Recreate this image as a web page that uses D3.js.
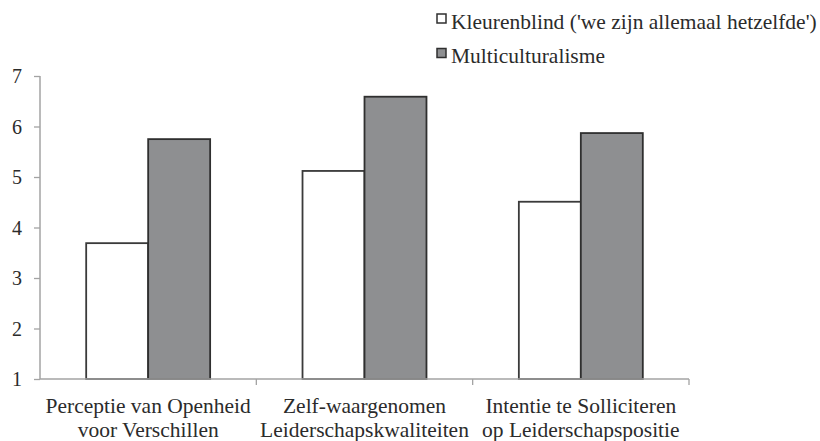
<!DOCTYPE html>
<html>
<head>
<meta charset="utf-8">
<script src="https://cdn.jsdelivr.net/npm/d3@7"></script>
<style>
  html, body { margin: 0; padding: 0; background: #fff; }
  svg { display: block; }
</style>
</head>
<body>
<svg id="chart" width="820" height="441"></svg>
<script>
// Categories (two-line labels) and mean scores per condition
const categories = [
  ["Perceptie van Openheid", "voor Verschillen"],
  ["Zelf-waargenomen", "Leiderschapskwaliteiten"],
  ["Intentie te Solliciteren", "op Leiderschapspositie"]
];
const seriesNames = ["Kleurenblind ('we zijn allemaal hetzelfde')", "Multiculturalisme"];
const kleurenblind = [3.69, 5.12, 4.51];
const multicultureel = [5.75, 6.59, 5.87];
const yTicks = [1, 2, 3, 4, 5, 6, 7];

const fills = ["#ffffff", "#8e8f91"];
const series = [kleurenblind, multicultureel];

const FONT = "Liberation Serif";
const FS = 20;          // font size
const SX = 1.075;       // slight horizontal widening of the serif face
const TEXT = "#2b2b2b";

const svg = d3.select("#chart");
const margin = { left: 40, right: 131, top: 76, bottom: 62 };
const W = 820, H = 441;

const x0 = d3.scaleBand()
  .domain(d3.range(categories.length))
  .range([margin.left, W - margin.right])
  .paddingInner(0.427)
  .paddingOuter(0.2135);

const x1 = d3.scaleBand()
  .domain(d3.range(series.length))
  .range([0, x0.bandwidth()]);

const y = d3.scaleLinear()
  .domain([1, 7])
  .range([H - margin.bottom, margin.top]);

const axisColor = "#a3a3a3";

// y axis
const yAxis = svg.append("g")
  .attr("transform", `translate(${margin.left},0)`)
  .call(d3.axisLeft(y).tickValues(yTicks).tickSize(6).tickPadding(12).tickFormat(d3.format("d")));
yAxis.attr("font-family", null).attr("font-size", null);
yAxis.select(".domain").attr("stroke", axisColor).attr("stroke-width", 1.5)
  .attr("d", `M0,${y(7)}V${y(1)}`);
yAxis.selectAll(".tick line").attr("stroke", axisColor).attr("stroke-width", 1.3);
yAxis.selectAll(".tick text")
  .style("font-family", FONT)
  .style("font-size", FS + "px")
  .style("fill", TEXT)
  .attr("dy", "0.34em")
  .attr("x", -18);

// bars
const step = x0.step();
const groups = svg.append("g").selectAll("g")
  .data(categories.map((c, i) => i))
  .join("g")
  .attr("transform", i => `translate(${x0(i)},0)`);

groups.selectAll("rect")
  .data(i => series.map((s, k) => ({ k, v: s[i] })))
  .join("rect")
  .attr("x", d => x1(d.k))
  .attr("width", x1.bandwidth())
  .attr("y", d => y(d.v))
  .attr("height", d => y(1) - y(d.v))
  .attr("fill", d => fills[d.k])
  .attr("stroke", d => d.k === 0 ? "#3a3a3a" : "#2f2f2f")
  .attr("stroke-width", 1.8);

// x axis with ticks at the category boundaries
const xAxis = svg.append("g");
const boundaries = d3.range(1, categories.length + 1)
  .map(i => x0(i - 1) + x0.bandwidth() + step * x0.paddingInner() / 2);
xAxis.append("line")
  .attr("x1", margin.left).attr("x2", boundaries[boundaries.length - 1])
  .attr("y1", y(1)).attr("y2", y(1))
  .attr("stroke", axisColor).attr("stroke-width", 1.5);
xAxis.selectAll("line.tk")
  .data(boundaries)
  .join("line")
  .attr("class", "tk")
  .attr("x1", d => d).attr("x2", d => d)
  .attr("y1", y(1)).attr("y2", y(1) + 6)
  .attr("stroke", axisColor).attr("stroke-width", 1.3);

// category labels (two lines each)
const labels = svg.append("g").selectAll("text")
  .data(categories)
  .join("text")
  .attr("text-anchor", "middle")
  .style("font-family", FONT)
  .style("font-size", FS + "px")
  .style("fill", TEXT)
  .attr("transform", (c, i) => `translate(${x0(i) + x0.bandwidth() / 2},413) scale(${SX},1)`);
labels.selectAll("tspan")
  .data(c => c)
  .join("tspan")
  .attr("x", 0)
  .attr("dy", (d, j) => j === 0 ? 0 : 24)
  .text(d => d);

// legend
const legend = svg.append("g").attr("transform", "translate(437,0)");
const legendRows = legend.selectAll("g")
  .data(seriesNames)
  .join("g")
  .attr("transform", (d, i) => `translate(0,${14 + i * 34.5})`);
legendRows.append("rect")
  .attr("x", 0).attr("y", 0)
  .attr("width", 9).attr("height", 9)
  .attr("fill", (d, i) => fills[i])
  .attr("stroke", "#2f2f2f")
  .attr("stroke-width", 1.5);
legendRows.append("text")
  .attr("transform", `translate(14,14.5) scale(${SX},1)`)
  .style("font-family", FONT)
  .style("font-size", FS + "px")
  .style("fill", TEXT)
  .text(d => d);
</script>
</body>
</html>
